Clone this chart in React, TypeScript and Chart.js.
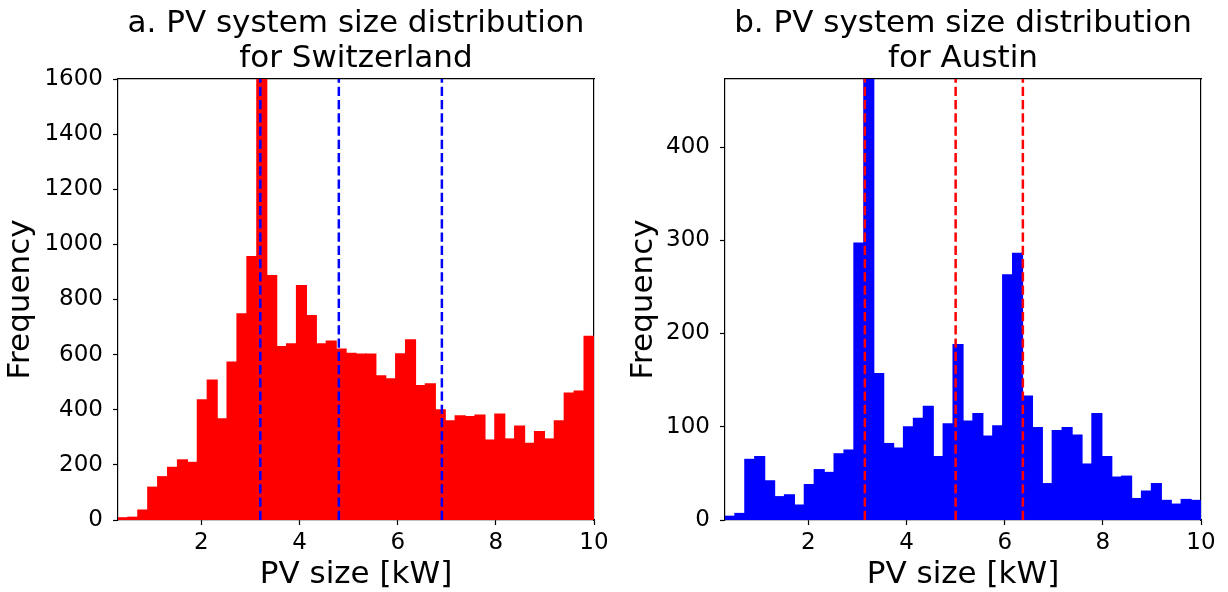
import React, { useEffect, useRef } from "react";
import { Chart, registerables } from "chart.js";

Chart.register(...registerables);

// ---- Data ----
const BIN_START = 0.3;
const BIN_END = 10;

const swissCounts = [
  8, 10, 36, 119, 157, 191, 218, 209, 436, 508,
  367, 573, 748, 956, 1950, 887, 629, 639, 850, 742,
  639, 649, 620, 605, 602, 602, 523, 512, 603, 654,
  488, 494, 400, 360, 378, 375, 381, 290, 384, 294,
  341, 278, 321, 294, 360, 460, 468, 666,
];

const austinCounts = [
  4, 7, 65, 68, 42, 25, 27, 16, 38, 54,
  51, 71, 75, 297, 560, 157, 82, 77, 100, 109,
  122, 68, 103, 188, 106, 114, 90, 101, 263, 286,
  133, 99, 39, 96, 99, 91, 60, 114, 68, 46,
  47, 23, 31, 39, 21, 17, 22, 21,
];

const swissMarkers = [3.2, 4.8, 6.9];
const austinMarkers = [3.15, 5.0, 6.37];

const xTicks = [2, 4, 6, 8, 10];
const swissYTicks = [0, 200, 400, 600, 800, 1000, 1200, 1400, 1600];
const austinYTicks = [0, 100, 200, 300, 400];
const swissYMax = 1600;
const austinYMax = 473;

const swissTitle = ["a. PV system size distribution", "for Switzerland"];
const austinTitle = ["b. PV system size distribution", "for Austin"];
const xLabel = "PV size [kW]";
const yLabel = "Frequency";

Chart.defaults.font.family = "'DejaVu Sans', sans-serif";
Chart.defaults.color = "#000";

type HistProps = {
  title: string[];
  counts: number[];
  color: string;
  markers: number[];
  markerColor: string;
  yMax: number;
  yTicks: number[];
  yAxisW: number;
  rightW: number;
  yTitlePad: number;
};

function Histogram(p: HistProps) {
  const ref = useRef<HTMLCanvasElement>(null);
  useEffect(() => {
    const w = (BIN_END - BIN_START) / p.counts.length;
    const bars = p.counts.map((c, i) => ({ x: BIN_START + w * (i + 0.5), y: c }));
    const tickGrid = {
      display: true,
      drawOnChartArea: false,
      drawTicks: true,
      tickLength: 5,
      tickWidth: 1.2,
      tickColor: "#000",
      offset: false,
    };
    const border = { display: true, color: "#000", width: 1.2 };
    const chart = new Chart(ref.current as HTMLCanvasElement, {
      type: "bar",
      data: {
        datasets: [
          {
            type: "bar",
            data: bars,
            backgroundColor: p.color,
            borderWidth: 0,
            inflateAmount: 0.6,
            barPercentage: 1,
            categoryPercentage: 1,
            order: 2,
            xAxisID: "x",
            yAxisID: "y",
          } as any,
          ...p.markers.map((m) => ({
            type: "line",
            data: [
              { x: m, y: 0 },
              { x: m, y: p.yMax },
            ],
            borderColor: p.markerColor,
            borderWidth: 2.5,
            borderDash: [9.25, 4],
            pointRadius: 0,
            fill: false,
            order: 0,
            xAxisID: "x",
            yAxisID: "y",
          })),
        ],
      },
      options: {
        animation: false,
        responsive: true,
        maintainAspectRatio: false,
        events: [],
        layout: { padding: 0 },
        plugins: {
          legend: { display: false },
          tooltip: { enabled: false },
          title: { display: false },
        },
        scales: {
          x: {
            type: "linear",
            position: "bottom",
            min: BIN_START,
            max: BIN_END,
            offset: false,
            grid: tickGrid,
            border,
            ticks: {
              font: { size: 23, lineHeight: 1.2 },
              color: "#000",
              padding: 4,
              maxRotation: 0,
              autoSkip: false,
              callback: (v: any) => String(v),
            },
            afterBuildTicks: (s: any) => {
              s.ticks = xTicks.map((v) => ({ value: v }));
            },
            afterFit: (s: any) => {
              s.height = 72;
            },
            title: {
              display: true,
              text: xLabel,
              color: "#000",
              font: { size: 31, lineHeight: 1 },
              padding: { top: 0, bottom: 1.2 },
            },
          },
          xTop: {
            type: "linear",
            position: "top",
            min: BIN_START,
            max: BIN_END,
            offset: false,
            grid: { display: false },
            ticks: { display: false },
            border,
            afterFit: (s: any) => {
              s.height = 79;
            },
            title: {
              display: true,
              text: p.title,
              color: "#000",
              font: { size: 31, lineHeight: 1.13 },
              padding: { top: 6, bottom: 0 },
            },
          },
          y: {
            type: "linear",
            position: "left",
            min: 0,
            max: p.yMax,
            grid: tickGrid,
            border,
            ticks: {
              font: { size: 23, lineHeight: 1.2 },
              color: "#000",
              padding: 10,
              autoSkip: false,
              callback: (v: any) => String(v),
            },
            afterBuildTicks: (s: any) => {
              s.ticks = p.yTicks.map((v) => ({ value: v }));
            },
            afterFit: (s: any) => {
              s.width = p.yAxisW;
            },
            title: {
              display: true,
              text: yLabel,
              color: "#000",
              font: { size: 31, lineHeight: 1 },
              padding: { top: p.yTitlePad, bottom: 0 },
            },
          },
          yRight: {
            type: "linear",
            position: "right",
            min: 0,
            max: p.yMax,
            grid: { display: false },
            ticks: { display: false },
            border,
            afterFit: (s: any) => {
              s.width = p.rightW;
            },
          },
        },
      } as any,
    });
    return () => chart.destroy();
  }, []);
  return <canvas ref={ref} />;
}

export default function App() {
  return (
    <div
      style={{
        position: "fixed",
        left: 0,
        top: 0,
        width: 1228,
        height: 592,
        background: "#fff",
      }}
    >
      <div style={{ position: "absolute", left: 0, top: 0, width: 614, height: 592 }}>
        <Histogram
          title={swissTitle}
          counts={swissCounts}
          color="#ff0000"
          markers={swissMarkers}
          markerColor="#0000ff"
          yMax={swissYMax}
          yTicks={swissYTicks}
          yAxisW={118}
          rightW={20}
          yTitlePad={5}
        />
      </div>
      <div style={{ position: "absolute", left: 614, top: 0, width: 614, height: 592 }}>
        <Histogram
          title={austinTitle}
          counts={austinCounts}
          color="#0000ff"
          markers={austinMarkers}
          markerColor="#ff0000"
          yMax={austinYMax}
          yTicks={austinYTicks}
          yAxisW={111}
          rightW={27}
          yTitlePad={14}
        />
      </div>
    </div>
  );
}
